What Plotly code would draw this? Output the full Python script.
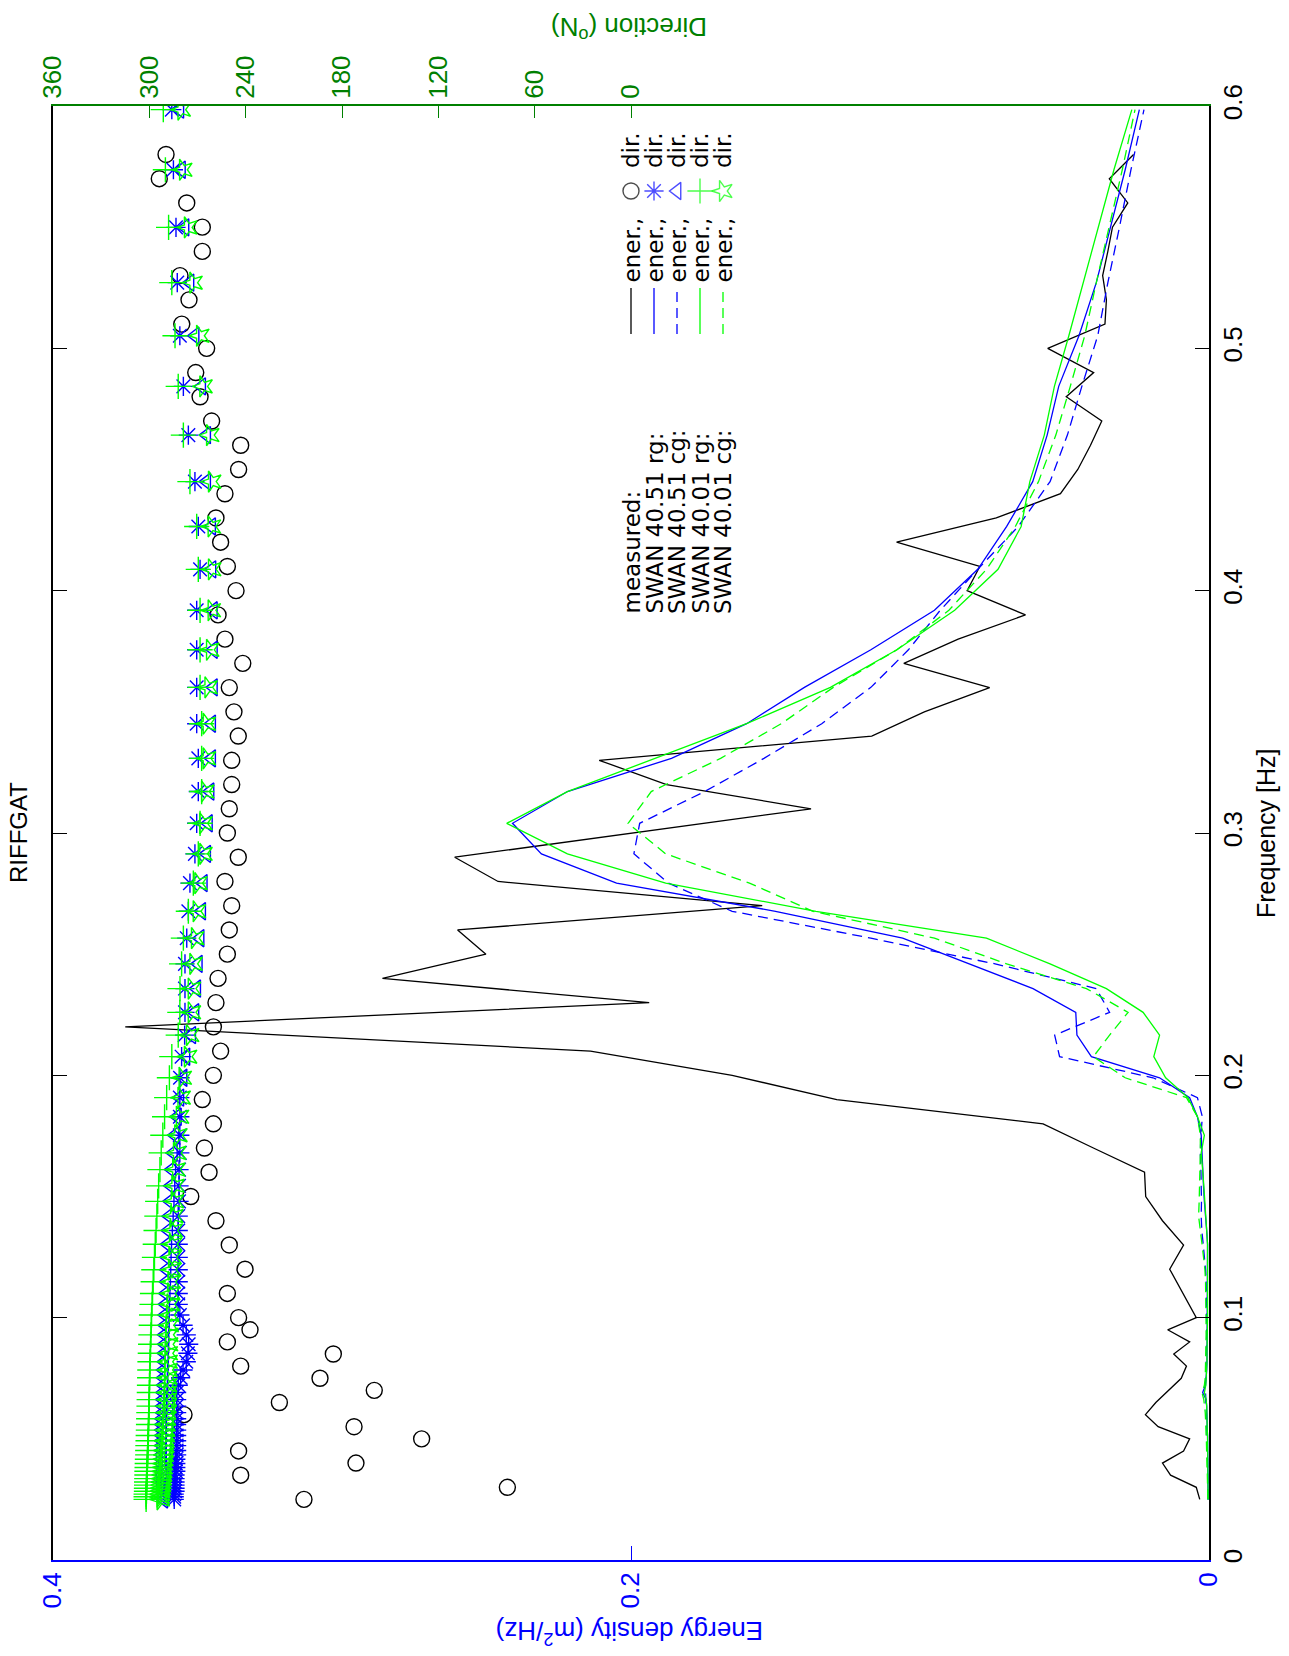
import plotly.graph_objects as go

# ---------------- data ----------------
# measured buoy spectrum (Hz, m2/Hz) and mean direction (deg N)
meas_freq = [0.025, 0.030, 0.035, 0.040, 0.045, 0.050, 0.055, 0.060, 0.065, 0.070,
             0.075, 0.080, 0.085, 0.090, 0.095, 0.100,
             0.11, 0.12, 0.13, 0.14, 0.15, 0.16, 0.17, 0.18, 0.19, 0.20,
             0.21, 0.22, 0.23, 0.24, 0.25, 0.26, 0.27, 0.28, 0.29, 0.30,
             0.31, 0.32, 0.33, 0.34, 0.35, 0.36, 0.37, 0.38, 0.39, 0.40,
             0.41, 0.42, 0.43, 0.44, 0.45, 0.46, 0.47, 0.48, 0.49, 0.50,
             0.51, 0.52, 0.53, 0.54, 0.55, 0.56, 0.57, 0.58]
meas_energy = [0.0032, 0.0044, 0.0133, 0.0161, 0.0088, 0.0067, 0.0176, 0.0220, 0.0184, 0.0141,
               0.0096, 0.0078, 0.0122, 0.0067, 0.0143, 0.0044,
               0.0090, 0.0136, 0.0088, 0.0161, 0.0219, 0.0223, 0.0400, 0.0574, 0.1288, 0.1650,
               0.2140, 0.3750, 0.1937, 0.2860, 0.2502, 0.2600, 0.1546, 0.2460, 0.2610, 0.2000,
               0.1377, 0.1877, 0.2110, 0.1167, 0.0985, 0.0759, 0.1056, 0.0868, 0.0635, 0.0837,
               0.0793, 0.1081, 0.0736, 0.0514, 0.0454, 0.0410, 0.0371, 0.0494, 0.0399, 0.0558,
               0.0360, 0.0355, 0.0368, 0.0350, 0.0334, 0.0281, 0.0345, 0.0261]
meas_dir = [203.7, 77.0, 243.1, 171.3, 244.4, 130.4, 172.5, 278.4, 219.0, 159.9,
            193.7, 243.1, 185.4, 251.4, 237.3, 244.4,
            251.4, 240.4, 250.2, 258.5, 274.2, 262.8, 265.7, 260.1, 267.0, 260.1,
            255.6, 260.1, 258.5, 257.2, 251.4, 250.2, 248.7, 252.9, 244.6, 251.4,
            250.2, 248.7, 248.7, 244.6, 247.3, 250.2, 241.8, 252.9, 257.2, 246.0,
            251.4, 255.6, 258.5, 252.9, 244.4, 243.1, 261.2, 268.4, 271.1, 264.3,
            279.8, 275.3, 280.9, 267.0, 267.0, 276.7, 293.8, 289.6]

# SWAN output frequencies (Hz)
swan_freq = [0.0250, 0.0261, 0.0272, 0.0284, 0.0296, 0.0309, 0.0322, 0.0336, 0.0351, 0.0366,
             0.0382, 0.0398, 0.0416, 0.0434, 0.0452, 0.0472, 0.0492, 0.0514, 0.0536, 0.0559,
             0.0583, 0.0608, 0.0635, 0.0662, 0.0691, 0.0721, 0.0752, 0.0784, 0.0818, 0.0853,
             0.0890, 0.0929, 0.0969, 0.1011, 0.1055, 0.1100, 0.1148, 0.1198, 0.1249, 0.1303,
             0.1360, 0.1419, 0.1480, 0.1544, 0.1611, 0.1680, 0.1753, 0.1829, 0.1908, 0.1990,
             0.2077, 0.2166, 0.2260, 0.2358, 0.2460, 0.2566, 0.2677, 0.2793, 0.2914, 0.3040,
             0.3171, 0.3308, 0.3451, 0.3601, 0.3756, 0.3919, 0.4088, 0.4265, 0.4450, 0.4642,
             0.4843, 0.5052, 0.5271, 0.5499, 0.5737, 0.5985]

# SWAN 40.51 rg
swan4051_rg_energy = [0.0003, 0.0003, 0.0003, 0.0003, 0.0003, 0.0003, 0.0003, 0.0004, 0.0004, 0.0004,
                      0.0004, 0.0004, 0.0004, 0.0005, 0.0005, 0.0005, 0.0005, 0.0005, 0.0006, 0.0006,
                      0.0006, 0.0007, 0.0008, 0.0010, 0.0022, 0.0012, 0.0009, 0.0008, 0.0007, 0.0007,
                      0.0006, 0.0006, 0.0006, 0.0005, 0.0005, 0.0005, 0.0005, 0.0005, 0.0005, 0.0005,
                      0.0008, 0.0013, 0.0016, 0.0019, 0.0022, 0.0025, 0.0027, 0.0040, 0.0067, 0.0171,
                      0.0407, 0.0457, 0.0461, 0.0609, 0.0830, 0.1060, 0.1500, 0.2050, 0.2310, 0.2410,
                      0.2220, 0.1860, 0.1600, 0.1400, 0.1170, 0.0950, 0.0800, 0.0700, 0.0610, 0.0560,
                      0.0520, 0.0450, 0.0390, 0.0340, 0.0290, 0.0241]
swan4051_rg_dir = [284.5, 284.5, 284.5, 284.0, 284.0, 284.0, 284.0, 284.0, 284.0, 283.5,
                   283.5, 283.5, 283.5, 283.0, 283.0, 283.0, 283.0, 283.0, 283.0, 283.0,
                   283.0, 283.0, 283.0, 283.0, 283.0, 282.0, 280.5, 279.0, 277.0, 276.0,
                   275.5, 277.0, 279.0, 281.0, 282.0, 282.0, 282.0, 282.0, 282.0, 282.0,
                   282.0, 282.0, 281.5, 281.5, 281.5, 281.0, 281.0, 281.0, 281.0, 280.9,
                   279.9, 278.0, 277.8, 277.8, 277.8, 276.7, 275.7, 274.7, 271.6, 270.5,
                   269.5, 269.5, 270.5, 270.5, 270.5, 270.5, 268.4, 269.5, 271.6, 275.7,
                   278.8, 281.0, 282.6, 283.4, 285.0, 286.0]

# SWAN 40.51 cg
swan4051_cg_energy = [0.0003, 0.0003, 0.0003, 0.0004, 0.0004, 0.0004, 0.0004, 0.0004, 0.0005, 0.0005,
                      0.0005, 0.0005, 0.0005, 0.0006, 0.0006, 0.0006, 0.0006, 0.0007, 0.0007, 0.0008,
                      0.0008, 0.0009, 0.0010, 0.0012, 0.0014, 0.0013, 0.0011, 0.0010, 0.0009, 0.0009,
                      0.0008, 0.0008, 0.0008, 0.0008, 0.0008, 0.0009, 0.0010, 0.0012, 0.0015, 0.0020,
                      0.0025, 0.0027, 0.0026, 0.0026, 0.0028, 0.0030, 0.0028, 0.0023, 0.0040, 0.0194,
                      0.0517, 0.0534, 0.0344, 0.0390, 0.0740, 0.1170, 0.1650, 0.1870, 0.1990, 0.1970,
                      0.1745, 0.1540, 0.1340, 0.1170, 0.1040, 0.0930, 0.0800, 0.0660, 0.0550, 0.0490,
                      0.0440, 0.0385, 0.0350, 0.0310, 0.0270, 0.0225]
swan4051_cg_dir = [291.0, 291.0, 291.0, 291.0, 291.0, 291.0, 291.3, 291.3, 291.5, 291.5,
                   291.5, 292.0, 292.0, 292.0, 292.0, 292.0, 292.0, 292.0, 292.0, 292.0,
                   292.0, 291.5, 291.5, 291.5, 291.3, 291.0, 291.0, 291.0, 290.5, 290.5,
                   290.3, 290.3, 290.0, 290.0, 289.8, 289.5, 289.2, 289.0, 288.8, 288.5,
                   288.0, 287.5, 287.0, 286.5, 286.0, 285.0, 284.0, 282.5, 281.0, 279.0,
                   277.2, 273.6, 271.6, 270.5, 269.5, 268.4, 267.4, 266.4, 264.3, 263.2,
                   262.2, 261.2, 261.2, 260.1, 260.1, 260.1, 261.0, 261.2, 264.3, 264.3,
                   267.4, 271.5, 274.7, 277.8, 280.0, 281.0]

# SWAN 40.01 rg
swan4001_rg_energy = [0.0003, 0.0003, 0.0003, 0.0003, 0.0003, 0.0003, 0.0003, 0.0003, 0.0004, 0.0004,
                      0.0004, 0.0004, 0.0004, 0.0004, 0.0005, 0.0005, 0.0005, 0.0005, 0.0006, 0.0006,
                      0.0006, 0.0007, 0.0008, 0.0010, 0.0016, 0.0011, 0.0009, 0.0008, 0.0007, 0.0007,
                      0.0006, 0.0006, 0.0006, 0.0005, 0.0005, 0.0005, 0.0005, 0.0005, 0.0005, 0.0005,
                      0.0008, 0.0012, 0.0015, 0.0018, 0.0022, 0.0027, 0.0016, 0.0040, 0.0073, 0.0150,
                      0.0191, 0.0171, 0.0228, 0.0355, 0.0550, 0.0770, 0.1360, 0.1880, 0.2220, 0.2430,
                      0.2220, 0.1920, 0.1600, 0.1310, 0.1080, 0.0880, 0.0730, 0.0650, 0.0620, 0.0570,
                      0.0535, 0.0485, 0.0435, 0.0383, 0.0329, 0.0267]
swan4001_rg_dir = [302.0, 302.0, 302.0, 301.8, 301.8, 301.7, 301.7, 301.6, 301.5, 301.5,
                   301.4, 301.3, 301.2, 301.0, 301.0, 300.9, 300.8, 300.7, 300.6, 300.5,
                   300.4, 300.3, 300.2, 300.1, 300.0, 299.9, 299.8, 299.7, 299.6, 299.4,
                   299.2, 299.0, 298.8, 298.6, 298.3, 298.0, 297.6, 297.2, 296.8, 296.3,
                   295.8, 295.3, 294.8, 294.2, 293.4, 292.6, 291.6, 290.5, 289.2, 287.5,
                   286.0, 282.0, 281.0, 280.9, 279.9, 278.8, 275.7, 272.6, 269.5, 268.4,
                   267.4, 267.4, 267.4, 268.4, 268.4, 268.4, 269.5, 270.5, 274.7, 278.8,
                   282.0, 284.0, 286.0, 288.0, 290.0, 291.3]

# SWAN 40.01 cg
swan4001_cg_energy = [0.0004, 0.0004, 0.0005, 0.0005, 0.0005, 0.0005, 0.0006, 0.0006, 0.0006, 0.0006,
                      0.0007, 0.0007, 0.0007, 0.0008, 0.0008, 0.0009, 0.0009, 0.0010, 0.0010, 0.0011,
                      0.0012, 0.0013, 0.0015, 0.0018, 0.0024, 0.0016, 0.0013, 0.0012, 0.0011, 0.0011,
                      0.0010, 0.0010, 0.0010, 0.0010, 0.0010, 0.0011, 0.0012, 0.0014, 0.0018, 0.0024,
                      0.0030, 0.0036, 0.0034, 0.0032, 0.0032, 0.0030, 0.0030, 0.0040, 0.0078, 0.0290,
                      0.0400, 0.0344, 0.0280, 0.0424, 0.0700, 0.0950, 0.1370, 0.1590, 0.1880, 0.2010,
                      0.1930, 0.1690, 0.1480, 0.1300, 0.1080, 0.0900, 0.0770, 0.0670, 0.0590, 0.0530,
                      0.0480, 0.0430, 0.0390, 0.0345, 0.0300, 0.0256]
swan4001_cg_dir = [293.0, 293.0, 292.8, 292.6, 292.4, 292.2, 292.0, 291.8, 291.6, 291.4,
                   291.2, 291.0, 290.8, 290.6, 290.4, 290.2, 290.0, 289.8, 289.6, 289.4,
                   289.2, 289.0, 288.8, 288.6, 288.5, 288.4, 288.3, 288.2, 288.1, 288.0,
                   287.8, 287.6, 287.4, 287.1, 286.8, 286.5, 286.2, 285.9, 285.6, 285.3,
                   285.0, 284.6, 284.2, 283.8, 283.3, 282.8, 282.0, 281.0, 280.0, 279.3,
                   276.0, 274.7, 273.6, 273.6, 272.6, 271.6, 270.5, 269.5, 266.4, 266.4,
                   265.3, 264.3, 264.3, 263.2, 262.2, 261.2, 261.0, 261.2, 261.0, 262.2,
                   266.4, 268.4, 272.6, 276.0, 279.0, 280.0]

freq_ticks = [0, 0.1, 0.2, 0.3, 0.4, 0.5, 0.6]
energy_ticks = [0, 0.2, 0.4]
dir_ticks = [0, 60, 120, 180, 240, 300, 360]

legend_names = ["measured:", "SWAN 40.51 rg:", "SWAN 40.51 cg:", "SWAN 40.01 rg:", "SWAN 40.01 cg:"]

# ---------------- styling ----------------
BLACK = "#000000"
BLUE = "#0000ff"
GREEN = "#00ff00"
DKGREEN = "#008000"
FONT = "Liberation Sans, Arial, Helvetica, sans-serif"
LEGFONT = "DejaVu Sans, Liberation Sans, sans-serif"
DASH = "10px,6px"

W, H = 1289, 1656
L, R, T, B = 53, 80, 106, 96
PW, PH = W - L - R, H - T - B


def px(x):
    """page x (pixels) -> plot-area fraction"""
    return (x - L) / PW


def py(y):
    """page y (pixels) -> plot-area fraction"""
    return (H - B - y) / PH


series = [
    dict(energy=meas_energy, direction=meas_dir, freq=meas_freq, color=BLACK, dash="solid",
         symbol="circle-open", msize=16, mcolor=BLACK, angle=0),
    dict(energy=swan4051_rg_energy, direction=swan4051_rg_dir, freq=swan_freq, color=BLUE, dash="solid",
         symbol="asterisk-open", msize=16, mcolor=BLUE, angle=0),
    dict(energy=swan4051_cg_energy, direction=swan4051_cg_dir, freq=swan_freq, color=BLUE, dash=DASH,
         symbol="triangle-left-open", msize=15, mcolor=BLUE, angle=0),
    dict(energy=swan4001_rg_energy, direction=swan4001_rg_dir, freq=swan_freq, color=GREEN, dash="solid",
         symbol="cross-thin-open", msize=18, mcolor=GREEN, angle=0),
    dict(energy=swan4001_cg_energy, direction=swan4001_cg_dir, freq=swan_freq, color=GREEN, dash=DASH,
         symbol="star-open", msize=16, mcolor=GREEN, angle=-90),
]

fig = go.Figure()

# energy spectra (bottom axis, frequency upward)
for s in series:
    fig.add_trace(go.Scatter(x=s["energy"], y=s["freq"], mode="lines", xaxis="x", yaxis="y",
                             line=dict(color=s["color"], width=1.3, dash=s["dash"]),
                             hoverinfo="skip"))

# mean directions (top axis)
for s in series:
    fig.add_trace(go.Scatter(x=s["direction"], y=s["freq"], mode="markers", xaxis="x2", yaxis="y",
                             marker=dict(symbol=s["symbol"], size=s["msize"], angle=s["angle"],
                                         color=s["mcolor"], line=dict(color=s["mcolor"], width=1.4)),
                             hoverinfo="skip"))

# ---------------- rotated legend ----------------
col_x = [631, 654, 677, 700, 723]
annotations = []
shapes = []
for i, s in enumerate(series):
    cx = px(col_x[i])
    annotations.append(dict(text=legend_names[i], x=cx, y=py(616), xref="paper", yref="paper",
                            xanchor="center", yanchor="bottom", textangle=-90, showarrow=False,
                            font=dict(size=23, color=BLACK, family=LEGFONT)))
    annotations.append(dict(text="ener.,", x=cx, y=py(285), xref="paper", yref="paper",
                            xanchor="center", yanchor="bottom", textangle=-90, showarrow=False,
                            font=dict(size=23, color=BLACK, family=LEGFONT)))
    annotations.append(dict(text="dir.", x=cx, y=py(170), xref="paper", yref="paper",
                            xanchor="center", yanchor="bottom", textangle=-90, showarrow=False,
                            font=dict(size=23, color=BLACK, family=LEGFONT)))
    shapes.append(dict(type="line", xref="paper", yref="paper", x0=cx, x1=cx,
                       y0=py(334), y1=py(288),
                       line=dict(color=s["color"], width=1.3, dash=s["dash"])))

fig.add_trace(go.Scatter(
    x=[px(c) for c in col_x], y=[py(191)] * len(col_x), mode="markers",
    xaxis="x3", yaxis="y3", hoverinfo="skip",
    marker=dict(symbol=[s["symbol"] for s in series], size=[s["msize"] for s in series],
                angle=[s["angle"] for s in series], color=[s["mcolor"] for s in series],
                line=dict(color=[s["mcolor"] for s in series], width=1.4))))

# titles
annotations += [
    dict(text="RIFFGAT", x=px(18), y=0.5, xref="paper", yref="paper", textangle=-90,
         xanchor="center", yanchor="middle", showarrow=False,
         font=dict(size=24, color=BLACK, family=FONT)),
    dict(text="Frequency [Hz]", x=px(1266), y=0.5, xref="paper", yref="paper", textangle=-90,
         xanchor="center", yanchor="middle", showarrow=False,
         font=dict(size=25, color=BLACK, family=FONT)),
    dict(text="Energy density (m<sup>2</sup>/Hz)", x=px(630), y=py(1633), xref="paper", yref="paper",
         textangle=180, xanchor="center", yanchor="middle", showarrow=False,
         font=dict(size=26, color=BLUE, family=FONT)),
    dict(text="Direction (<sup>o</sup>N)", x=px(629), y=py(29), xref="paper", yref="paper",
         textangle=180, xanchor="center", yanchor="middle", showarrow=False,
         font=dict(size=26, color=DKGREEN, family=FONT)),
]

fig.update_layout(
    width=W, height=H,
    margin=dict(l=L, r=R, t=T, b=B, pad=0),
    paper_bgcolor="white", plot_bgcolor="white",
    showlegend=False,
    font=dict(family=FONT, size=26, color=BLACK),
    xaxis=dict(range=[0.4, 0], tickvals=energy_ticks, ticktext=["0", "0.2", "0.4"],
               tickangle=-90, ticks="inside", ticklen=14, tickwidth=1.3, tickcolor=BLUE,
               showline=True, linecolor=BLUE, linewidth=2,
               tickfont=dict(color=BLUE, size=26, family=FONT),
               showgrid=False, zeroline=False),
    xaxis2=dict(overlaying="x", side="top", range=[360, -360], tickvals=dir_ticks,
                ticktext=[str(d) for d in dir_ticks],
                tickangle=-90, ticks="inside", ticklen=12, tickwidth=1.3, tickcolor=DKGREEN,
                showline=True, linecolor=DKGREEN, linewidth=2,
                tickfont=dict(color=DKGREEN, size=26, family=FONT),
                showgrid=False, zeroline=False),
    yaxis=dict(range=[0, 0.6], side="right", tickvals=freq_ticks,
               ticktext=["0", "0.1", "0.2", "0.3", "0.4", "0.5", "0.6"],
               tickangle=-90, ticks="inside", ticklen=14, tickwidth=1.3, tickcolor=BLACK,
               showline=True, linecolor=BLACK, linewidth=2, mirror="ticks",
               tickfont=dict(color=BLACK, size=26, family=FONT),
               showgrid=False, zeroline=False),
    xaxis3=dict(overlaying="x", range=[0, 1], visible=False),
    yaxis3=dict(overlaying="y", range=[0, 1], visible=False),
    annotations=annotations,
    shapes=shapes,
)

fig.write_html("out.html")
